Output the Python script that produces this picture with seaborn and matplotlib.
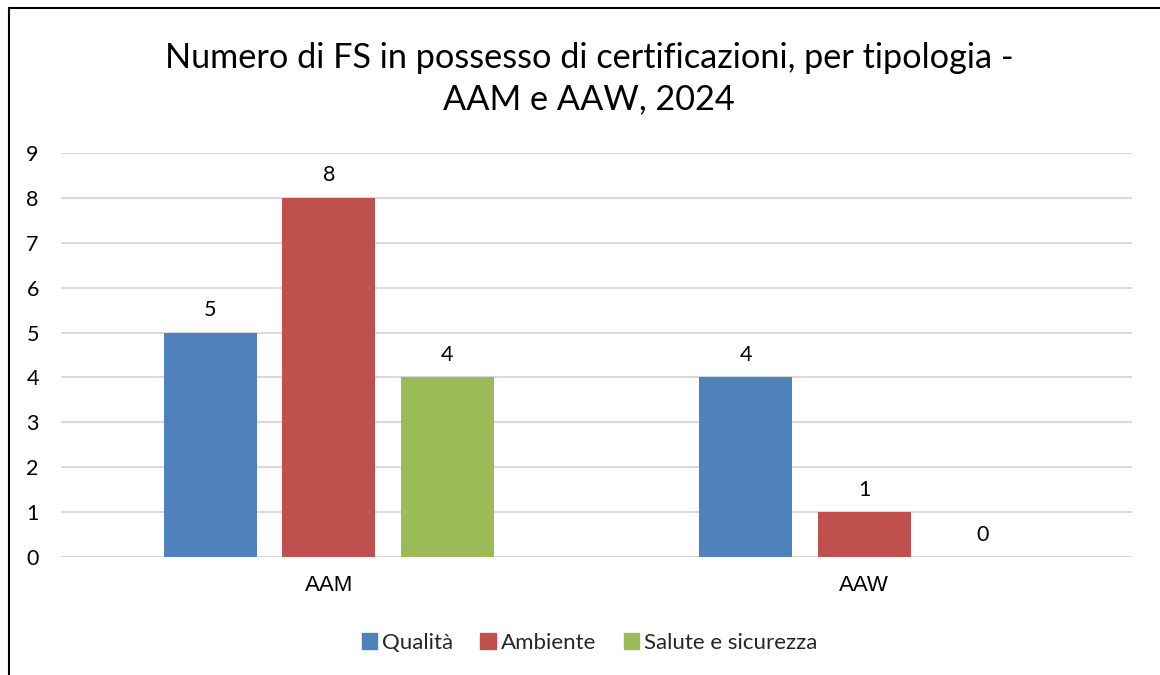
import matplotlib
matplotlib.use("Agg")
import matplotlib.pyplot as plt
import matplotlib.patches as mpatches
import seaborn as sns
import pandas as pd

# Data
gruppi = ["AAM", "AAW"]
tipologie = ["Qualità", "Ambiente", "Salute e sicurezza"]
qualita = [5, 4]
ambiente = [8, 1]
salute = [4, 0]
colori = ["#4F81BD", "#C0504D", "#9BBB59"]

df = pd.DataFrame({
    "gruppo": gruppi * 3,
    "tipologia": [t for t in tipologie for _ in gruppi],
    "valore": qualita + ambiente + salute,
})

sns.set_theme(style="white")
plt.rcParams["font.family"] = ["Lato", "DejaVu Sans"]

fig = plt.figure(figsize=(11.6, 6.75), dpi=100)
ax = fig.add_axes([0.0526, 0.1748, 0.9233, 0.5985])

sns.barplot(data=df, x="gruppo", y="valore", hue="tipologia",
            hue_order=tipologie, palette=colori, width=0.665, gap=0.217,
            saturation=1, linewidth=0, ax=ax, legend=False, errorbar=None)

ax.set_ylim(0, 9)
ax.set_yticks(range(0, 10))
ax.yaxis.grid(True, color="#D9D9D9", linewidth=1.5)
ax.set_axisbelow(True)
for s in ax.spines.values():
    s.set_visible(False)
ax.set_xlabel("")
ax.set_ylabel("")
ax.tick_params(axis="y", length=0, pad=16, labelsize=15.5, labelcolor="black")
ax.tick_params(axis="x", length=0, pad=13, labelcolor="black")
for lab in ax.get_xticklabels():
    lab.set_fontfamily("Liberation Sans")
    lab.set_fontsize(16)

for cont in ax.containers:
    ax.bar_label(cont, fmt="%d", padding=9, fontsize=15.5, color="black")

fig.text(0.508, 0.884, "Numero di FS in possesso di certificazioni, per tipologia -\nAAM e AAW, 2024",
         ha="center", va="center", fontsize=24.7, linespacing=1.36, color="black")

handles = [mpatches.Patch(color=c, label=t) for c, t in zip(colori, tipologie)]
fig.legend(handles=handles, loc="center", bbox_to_anchor=(0.508, 0.048), ncol=3,
           frameon=False, fontsize=16, handlelength=0.7, handleheight=0.7,
           handletextpad=0.2, columnspacing=1.25)

# chart border (left and top edges)
fig.add_artist(plt.Line2D([8.5 / 1160, 8.5 / 1160], [0, 1 - 8 / 675], color="black", linewidth=1.5,
                          transform=fig.transFigure))
fig.add_artist(plt.Line2D([8.5 / 1160, 1], [1 - 8 / 675, 1 - 8 / 675], color="black", linewidth=1.5,
                          transform=fig.transFigure))

fig.savefig("out.png", dpi=100)
